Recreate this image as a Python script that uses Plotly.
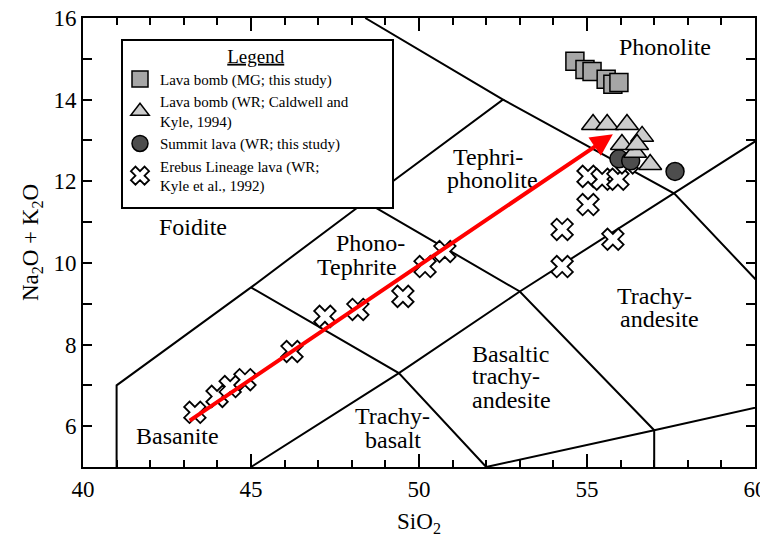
import plotly.graph_objects as go

# ---------------- data ----------------
# TAS field boundaries (SiO2, Na2O+K2O); None separates polylines
bound_x = [41, 41, 45, 48.4, 52.5, 48.4, None,
           45, 49.4, 53, 57.6, 61, None,
           45, 49.4, 52, 52, None,
           48.4, 53, 57, 57, None,
           52.5, 57.6, 63, None,
           52, 57, 63]
bound_y = [0, 7, 9.4, 11.5, 14, 16, None,
           5, 7.3, 9.3, 11.7, 13.5, None,
           9.4, 7.3, 5, 0, None,
           11.5, 9.3, 5.9, 0, None,
           14, 11.7, 7, None,
           5, 5.9, 7]

mg_x = [54.64, 54.94, 55.15, 55.57, 55.77, 55.95]
mg_y = [14.94, 14.74, 14.69, 14.50, 14.38, 14.42]

cw_x = [55.18, 55.60, 56.19, 56.64, 56.43, 56.04, 56.49, 56.88]
cw_y = [13.39, 13.39, 13.39, 13.10, 12.71, 12.90, 12.90, 12.41]

sum_x = [55.95, 56.30, 57.62]
sum_y = [12.55, 12.50, 12.24]

kyle_x = [43.33, 43.99, 44.38, 44.82, 46.22, 47.20, 48.18, 49.52, 50.18, 50.77,
          54.26, 54.26, 55.03, 55.77, 55.03, 55.45, 55.92, 56.20]
kyle_y = [6.34, 6.73, 6.97, 7.14, 7.83, 8.69, 8.86, 9.18, 9.91, 10.28,
          10.82, 9.91, 11.43, 10.58, 12.12, 12.05, 12.05, 12.45]

arrow_start = (43.13, 6.11)
arrow_end = (55.77, 13.15)

# field labels, one entry per text line
label_text = ["Phonolite", "Tephri-", "phonolite", "Foidite", "Phono-", "Tephrite",
              "Trachy-", "andesite", "Basaltic", "trachy-", "andesite",
              "Trachy-", "basalt", "Basanite"]
label_x = [57.32, 52.05, 52.20, 43.27, 48.57, 48.15,
           57.02, 57.17, 51.52, 51.52, 51.52,
           49.20, 49.22, 42.80]
label_y = [15.28, 12.59, 12.02, 10.87, 10.50, 9.91,
           9.18, 8.62, 7.78, 7.22, 6.65,
           6.24, 5.67, 5.75]
label_anchor = ["center", "center", "center", "center", "center", "center",
                "center", "center", "left", "left", "left",
                "center", "center", "center"]

SERIF = "Liberation Serif, Times New Roman, serif"

# page body adds an 8 px offset; plot area in window pixels: x 83..755, y 18..467
OFF = 8
PL, PR, PT, PB = 83, 755, 18, 467

fig = go.Figure()

fig.add_trace(go.Scatter(x=bound_x, y=bound_y, mode="lines",
                         line=dict(color="black", width=2),
                         showlegend=False, hoverinfo="skip"))

fig.add_trace(go.Scatter(x=kyle_x, y=kyle_y, mode="markers",
                         name="Erebus Lineage lava (WR;<br>Kyle et al., 1992)",
                         marker=dict(symbol="x", size=19, color="white",
                                     line=dict(color="black", width=1.8))))
fig.add_trace(go.Scatter(x=sum_x, y=sum_y, mode="markers",
                         name="Summit lava (WR; this study)",
                         marker=dict(symbol="circle", size=18, color="#4d4d4d",
                                     line=dict(color="black", width=1.5))))
fig.add_trace(go.Scatter(x=cw_x, y=cw_y, mode="markers",
                         name="Lava bomb (WR; Caldwell and<br>Kyle, 1994)",
                         marker=dict(symbol="triangle-up", size=20, color="#cccccc",
                                     line=dict(color="black", width=1.5))))
fig.add_trace(go.Scatter(x=mg_x, y=mg_y, mode="markers",
                         name="Lava bomb (MG; this study)",
                         marker=dict(symbol="square", size=18, color="#a6a6a6",
                                     line=dict(color="black", width=1.5))))

for t, x, y, a in zip(label_text, label_x, label_y, label_anchor):
    fig.add_annotation(x=x, y=y, text=t, showarrow=False, xanchor=a, yanchor="middle",
                       font=dict(family=SERIF, size=24, color="black"))

fig.add_annotation(x=arrow_end[0], y=arrow_end[1], ax=arrow_start[0], ay=arrow_start[1],
                   xref="x", yref="y", axref="x", ayref="y", text="",
                   showarrow=True, arrowhead=2, arrowsize=1.1, arrowwidth=4,
                   arrowcolor="#ff0000", standoff=0, startstandoff=0)

W, H = PR - PL, PB - PT
# legend frame (opaque box covering the field lines behind the legend)
fig.add_shape(type="rect", xref="paper", yref="paper",
              x0=(122 - PL) / W, x1=(393 - PL) / W,
              y0=(PB - 208) / H, y1=(PB - 40) / H,
              fillcolor="white", line=dict(color="black", width=2), layer="above")

axis_common = dict(showline=True, linecolor="black", linewidth=2, mirror="allticks",
                   ticks="inside", tickcolor="black", tickwidth=2, showgrid=False,
                   zeroline=False, automargin=False, ticklabeloverflow="allow",
                   tickfont=dict(family=SERIF, size=23, color="black"))

fig.update_xaxes(range=[40, 60], dtick=5, tick0=40, ticklen=13,
                 minor=dict(dtick=1, ticklen=7, tickcolor="black", tickwidth=2, ticks="inside"),
                 title=dict(text="SiO<sub>2</sub>", font=dict(family=SERIF, size=23, color="black"),
                            standoff=12),
                 **axis_common)
fig.update_yaxes(range=[5, 16], dtick=2, tick0=0, ticklen=9,
                 minor=dict(dtick=1, ticklen=9, tickcolor="black", tickwidth=2, ticks="inside"),
                 title=dict(text="Na<sub>2</sub>O + K<sub>2</sub>O",
                            font=dict(family=SERIF, size=23, color="black"), standoff=8),
                 **axis_common)

fig.update_layout(
    width=768, height=540,
    margin=dict(l=PL - OFF, r=768 - (PR - OFF), t=PT - OFF, b=540 - (PB - OFF),
                autoexpand=False),
    plot_bgcolor="white", paper_bgcolor="white",
    legend=dict(x=(120 - PL) / W, y=(PB - 38) / H, xanchor="left", yanchor="top",
                bgcolor="rgba(0,0,0,0)", borderwidth=0,
                traceorder="reversed", tracegroupgap=2, entrywidth=225,
                font=dict(family=SERIF, size=15, color="black"),
                title=dict(text="&nbsp;" * 8 + "<u>Legend</u>", side="top center",
                           font=dict(family=SERIF, size=19, color="black"))),
)

fig.write_html("out.html")
